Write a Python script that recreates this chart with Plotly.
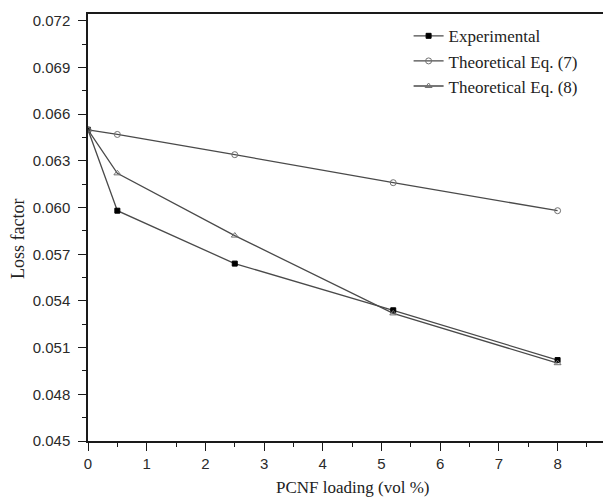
import plotly.graph_objects as go

x_loading = [0, 0.5, 2.5, 5.2, 8]
experimental = [0.0650, 0.0598, 0.0564, 0.0534, 0.0502]
eq7 = [0.0650, 0.0647, 0.0634, 0.0616, 0.0598]
eq8 = [0.0650, 0.0622, 0.0582, 0.0532, 0.0500]

series_names = ["Experimental", "Theoretical Eq. (7)", "Theoretical Eq. (8)"]
x_title = "PCNF loading (vol %)"
y_title = "Loss factor"

line_col = "#4a4a4a"
serif = "Liberation Serif, Times New Roman, serif"
sans = "Liberation Sans, Arial, sans-serif"

# page body has an 8px margin; figure is sized/placed to compensate
W, H = 603, 489
L, T, B = 80, 6, 56
PW, PH = W - L, H - T - B

fig = go.Figure()
fig.add_trace(go.Scatter(
    x=x_loading, y=experimental, name=series_names[0], mode="lines+markers",
    line=dict(color=line_col, width=1.3),
    marker=dict(symbol="square", size=5, color="#000000", line=dict(color="#000000", width=1)),
))
fig.add_trace(go.Scatter(
    x=x_loading, y=eq7, name=series_names[1], mode="lines+markers",
    line=dict(color=line_col, width=1.3),
    marker=dict(symbol="circle-open", size=6, color="#707070", line=dict(width=1)),
))
fig.add_trace(go.Scatter(
    x=x_loading, y=eq8, name=series_names[2], mode="lines+markers",
    line=dict(color=line_col, width=1.3),
    marker=dict(symbol="triangle-up-open", size=6, color="#707070", line=dict(width=1)),
))

fig.update_layout(
    width=W, height=H,
    margin=dict(l=L, r=0, t=T, b=B, pad=0),
    paper_bgcolor="white", plot_bgcolor="white",
    showlegend=True,
    legend=dict(
        x=0.613, y=0.99, xanchor="left", yanchor="top",
        bgcolor="rgba(0,0,0,0)", borderwidth=0,
        font=dict(family=serif, size=17, color="#222222"),
        itemwidth=30, tracegroupgap=0,
    ),
    annotations=[
        dict(text=y_title, xref="paper", yref="paper", x=(10 - L) / PW, y=(T + PH - 231) / PH,
             xanchor="center", yanchor="middle", textangle=-90, showarrow=False,
             font=dict(family=serif, size=18, color="#222222")),
        dict(text=x_title, xref="paper", yref="paper", x=(344 - L) / PW, y=(T + PH - 480) / PH,
             xanchor="center", yanchor="middle", showarrow=False,
             font=dict(family=serif, size=17, color="#222222")),
    ],
)

fig.update_xaxes(
    range=[0, 8.91], tick0=0, dtick=1,
    showgrid=False, zeroline=False,
    showline=True, linecolor="#1a1a1a", linewidth=1.5, mirror=True,
    ticks="outside", ticklen=8, tickwidth=1.3, tickcolor="#1a1a1a",
    minor=dict(ticks="outside", ticklen=4, dtick=0.5, tick0=0, tickcolor="#1a1a1a", tickwidth=1.3, showgrid=False),
    tickfont=dict(family=sans, size=15, color="#2a2a2a"),
)
fig.update_yaxes(
    range=[0.045, 0.07244], tick0=0.045, dtick=0.003, tickformat=".3f",
    showgrid=False, zeroline=False,
    showline=True, linecolor="#1a1a1a", linewidth=1.5, mirror=False,
    ticks="outside", ticklen=8, tickwidth=1.3, tickcolor="#1a1a1a",
    minor=dict(ticks="outside", ticklen=4, dtick=0.0015, tick0=0.045, tickcolor="#1a1a1a", tickwidth=1.3, showgrid=False),
    tickfont=dict(family=sans, size=15, color="#2a2a2a"),
    ticklabelstandoff=5,
)

fig.write_html("out.html")
